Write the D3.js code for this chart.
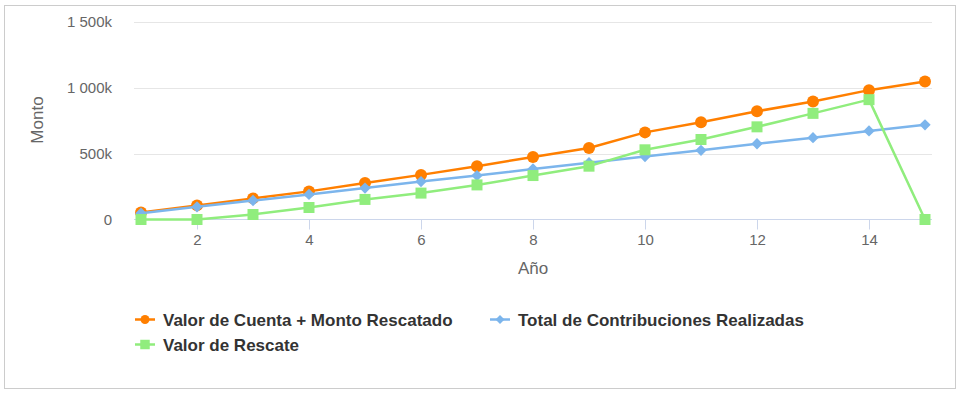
<!DOCTYPE html>
<html>
<head>
<meta charset="utf-8">
<script src="https://cdn.jsdelivr.net/npm/d3@7/dist/d3.min.js"></script>
<style>
  body { margin: 0; background: #fff; }
  svg text { font-family: "Liberation Sans", Arial, sans-serif; }
</style>
</head>
<body>
<div id="chart"></div>
<script>
// data
const years = [1, 2, 3, 4, 5, 6, 7, 8, 9, 10, 11, 12, 13, 14, 15];
const valorCuenta = [53000, 107000, 160000, 213000, 277000, 338000, 404000, 474000, 542000, 660000, 736000, 820000, 894000, 980000, 1045000];
const contribuciones = [48000, 96000, 144000, 190000, 238000, 287000, 333000, 383000, 430000, 477000, 524000, 574000, 620000, 671000, 717000];
const valorRescate = [0, 0, 38000, 91000, 152000, 200000, 262000, 333000, 404000, 528000, 606000, 702000, 804000, 908000, 0];
const yTicks = [0, 500000, 1000000, 1500000];
const xTicks = [2, 4, 6, 8, 10, 12, 14];

const series = [
  { name: "Valor de Cuenta + Monto Rescatado", values: valorCuenta, color: "#ff7f00", symbol: "circle" },
  { name: "Total de Contribuciones Realizadas", values: contribuciones, color: "#7cb5ec", symbol: "diamond" },
  { name: "Valor de Rescate", values: valorRescate, color: "#90ed7d", symbol: "square" }
];

const width = 961, height = 395;
const svg = d3.select("#chart").append("svg")
    .attr("width", width)
    .attr("height", height);

// outer frame
svg.append("rect")
    .attr("x", 4.5).attr("y", 5.5)
    .attr("width", 951).attr("height", 383)
    .attr("fill", "#fff")
    .attr("stroke", "#cccccc");

const x = d3.scaleLinear().domain([0.875, 15.125]).range([134, 932]);
const y = d3.scaleLinear().domain([0, 1500000]).range([219.5, 21.5]);

const fmt = d => d === 0 ? "0" : d3.format(",")(d / 1000).replace(/,/g, " ") + "k";

// grid + y labels
const yAxis = svg.append("g").attr("transform", "translate(134,0)")
    .call(d3.axisLeft(y).tickValues(yTicks).tickSize(0).tickPadding(22).tickFormat(fmt));
yAxis.select(".domain").remove();
yAxis.selectAll("text").attr("fill", "#666").style("font-size", "15px");

svg.append("g").selectAll("line")
  .data(yTicks.filter(d => d > 0))
  .enter().append("line")
    .attr("x1", 134).attr("x2", 932)
    .attr("y1", d => Math.round(y(d)) + 0.5).attr("y2", d => Math.round(y(d)) + 0.5)
    .attr("stroke", "#e6e6e6");

// x axis
const xAxis = svg.append("g").attr("transform", "translate(0,219.5)")
    .call(d3.axisBottom(x).tickValues(xTicks).tickSize(10).tickPadding(5));
xAxis.select(".domain").attr("stroke", "#ccd6eb").attr("d", "M134,0H932");
xAxis.selectAll(".tick line").attr("stroke", "#ccd6eb");
xAxis.selectAll("text").attr("fill", "#666").style("font-size", "15px");

// axis titles
svg.append("text")
    .attr("x", 533).attr("y", 274)
    .attr("text-anchor", "middle")
    .attr("fill", "#666").style("font-size", "17px")
    .text("Año");
svg.append("text")
    .attr("transform", "translate(43,120) rotate(-90)")
    .attr("text-anchor", "middle")
    .attr("fill", "#666").style("font-size", "17px")
    .text("Monto");

// diamond = square turned 45 degrees
const symbols = { circle: d3.symbolCircle, diamond: d3.symbolSquare, square: d3.symbolSquare };
const sizes = { circle: Math.PI * 36, diamond: 64, square: 121 };
const legendSizes = { circle: Math.PI * 20, diamond: 40, square: 90 };
const rot = s => s === "diamond" ? " rotate(45)" : "";

const line = d3.line().x((d, i) => x(years[i])).y(d => y(d));

series.forEach(s => {
  const g = svg.append("g");
  g.append("path")
    .attr("d", line(s.values))
    .attr("fill", "none")
    .attr("stroke", s.color)
    .attr("stroke-width", 2.5)
    .attr("stroke-linejoin", "round");
  g.selectAll("path.pt")
    .data(s.values)
    .enter().append("path")
      .attr("class", "pt")
      .attr("transform", (d, i) => "translate(" + x(years[i]) + "," + y(d) + ")" + rot(s.symbol))
      .attr("d", d3.symbol().type(symbols[s.symbol]).size(sizes[s.symbol]))
      .attr("fill", s.color);
});

// legend
const legendPos = [[135, 319.5], [490, 319.5], [135, 344.5]];
series.forEach((s, i) => {
  const [lx, ly] = legendPos[i];
  const g = svg.append("g").attr("transform", "translate(" + lx + "," + ly + ")");
  g.append("line")
    .attr("x1", 0).attr("x2", 20)
    .attr("stroke", s.color).attr("stroke-width", 2.5);
  g.append("path")
    .attr("transform", "translate(10,0)" + rot(s.symbol))
    .attr("d", d3.symbol().type(symbols[s.symbol]).size(legendSizes[s.symbol]))
    .attr("fill", s.color);
  g.append("text")
    .attr("x", 28).attr("y", 6)
    .attr("fill", "#333")
    .style("font-size", "17px")
    .style("font-weight", "bold")
    .text(s.name);
});
</script>
</body>
</html>
